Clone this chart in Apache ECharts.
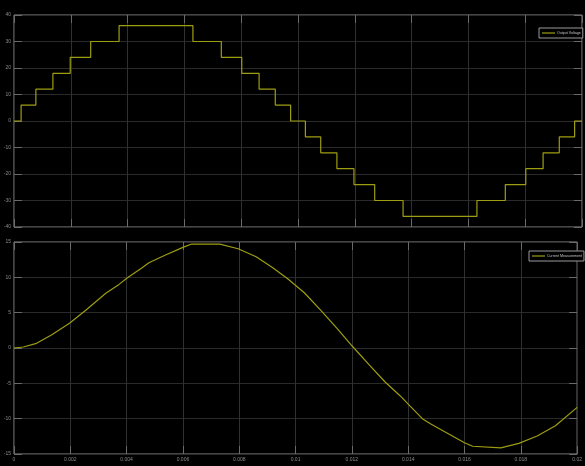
<!DOCTYPE html>
<html>
<head>
<meta charset="utf-8">
<script src="https://cdn.jsdelivr.net/npm/echarts@6/dist/echarts.min.js"></script>
<style>
  html, body { margin: 0; padding: 0; background: #000; }
  #chart { width: 585px; height: 466px; }
</style>
</head>
<body>
<div id="chart"></div>
<script>
// Multilevel inverter output: staircase voltage and the resulting load current
const voltTime = [0, 0.00025, 0.00077, 0.00137, 0.00198, 0.0027, 0.0037, 0.0063, 0.0073, 0.00802,
  0.00863, 0.0092, 0.00974, 0.01026, 0.0108, 0.01137, 0.01197, 0.0127, 0.0137, 0.0163,
  0.0173, 0.01802, 0.01863, 0.0192, 0.01974, 0.02];
const voltLevel = [0, 6, 12, 18, 24, 30, 36, 30, 24, 18,
  12, 6, 0, -6, -12, -18, -24, -30, -36, -30,
  -24, -18, -12, -6, 0, 0];

const currTime = [0, 0.00033, 0.0008, 0.00133, 0.00197, 0.00256, 0.00326, 0.00373, 0.00403, 0.00455,
  0.00479, 0.00538, 0.00602, 0.00631, 0.00731, 0.00796, 0.0086, 0.00919, 0.00972, 0.01031,
  0.01089, 0.01148, 0.01201, 0.0126, 0.01318, 0.01371, 0.01406, 0.01453, 0.01482, 0.01541,
  0.016, 0.01629, 0.01729, 0.01793, 0.01858, 0.01923, 0.02];
const currValue = [0, 0.14, 0.66, 1.84, 3.49, 5.37, 7.74, 9.0, 9.94, 11.36,
  12.07, 13.15, 14.28, 14.71, 14.71, 14.05, 12.91, 11.36, 9.8, 7.82,
  5.37, 2.73, 0.28, -2.31, -4.81, -6.75, -8.2, -10.09, -10.8, -12.1,
  -13.4, -13.9, -14.14, -13.5, -12.45, -11.0, -8.4];

const timeTicks = { min: 0, max: 0.02, interval: 0.002 };
const voltTicks = { min: -40, max: 40, interval: 10 };
const currTicks = { min: -15, max: 15, interval: 5 };

const lineColor = '#9d9d12';
const frameColor = '#8a8a8a';
const tickColor = '#6a6a6a';
const labelStyle = { color: '#8a8a8a', fontSize: 5, fontFamily: 'Liberation Sans' };

function xAxisFor(gridIndex, position, main, labels) {
  return Object.assign({
    type: 'value', gridIndex: gridIndex, position: position,
    axisLine: { show: false, onZero: false },
    axisTick: { show: true, inside: true, length: 8, lineStyle: { color: tickColor } },
    splitLine: { show: main, lineStyle: { color: '#303030', width: 1 } },
    axisLabel: Object.assign({ show: labels, margin: 3 }, labelStyle)
  }, timeTicks);
}
function yAxisFor(gridIndex, position, main, ticks) {
  return Object.assign({
    type: 'value', gridIndex: gridIndex, position: position,
    axisLine: { show: false, onZero: false },
    axisTick: { show: true, inside: true, length: 8, lineStyle: { color: tickColor } },
    splitLine: { show: main, lineStyle: { color: '#2a2a2a', width: 1 } },
    axisLabel: Object.assign({ show: main, margin: 3 }, labelStyle)
  }, ticks);
}

function legendAt(name, left, top) {
  return {
    data: [name], left: left, top: top, orient: 'vertical',
    icon: 'rect', itemWidth: 13, itemHeight: 1.2, itemGap: 0,
    padding: [3, 2, 3, 3], borderColor: '#9a9a9a', borderWidth: 1, borderRadius: 0,
    backgroundColor: '#000',
    textStyle: { color: '#c4c4c4', fontSize: 3.6, fontFamily: 'Liberation Sans', padding: [0, 0, 0, -3] }
  };
}

const chart = echarts.init(document.getElementById('chart'), null, { renderer: 'canvas' });
chart.setOption({
  backgroundColor: '#000',
  animation: false,
  grid: [
    { left: 14, right: 3, top: 15, height: 212, show: true, borderColor: frameColor, borderWidth: 1, backgroundColor: '#000' },
    { left: 14, right: 3, top: 242, height: 212, show: true, borderColor: frameColor, borderWidth: 1, backgroundColor: '#000' }
  ],
  xAxis: [
    xAxisFor(0, 'bottom', true, false),
    xAxisFor(0, 'top', false, false),
    xAxisFor(1, 'bottom', true, true),
    xAxisFor(1, 'top', false, false)
  ],
  yAxis: [
    yAxisFor(0, 'left', true, voltTicks),
    yAxisFor(0, 'right', false, voltTicks),
    yAxisFor(1, 'left', true, currTicks),
    yAxisFor(1, 'right', false, currTicks)
  ],
  legend: [
    legendAt('Output Voltage', 539, 28),
    legendAt('Current Measurement', 529, 251)
  ],
  series: [
    {
      name: 'Output Voltage', type: 'line', xAxisIndex: 0, yAxisIndex: 0,
      step: 'end', symbol: 'none', color: lineColor,
      lineStyle: { color: lineColor, width: 1.2 },
      data: voltTime.map((t, i) => [t, voltLevel[i]])
    },
    {
      name: 'Current Measurement', type: 'line', xAxisIndex: 2, yAxisIndex: 2,
      symbol: 'none', color: lineColor,
      lineStyle: { color: lineColor, width: 1.2 },
      data: currTime.map((t, i) => [t, currValue[i]])
    }
  ]
});
</script>
</body>
</html>
